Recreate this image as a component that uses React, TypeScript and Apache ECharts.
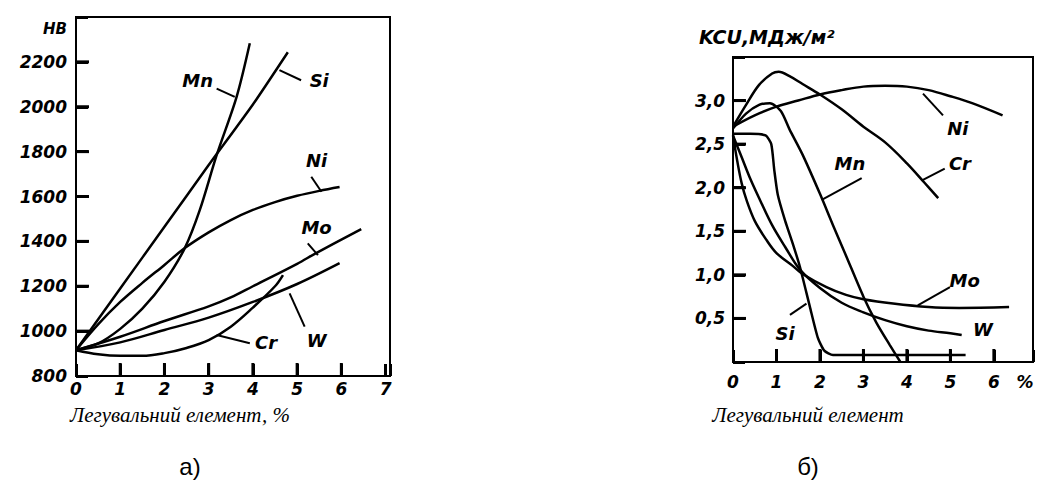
import React, { useEffect, useRef } from 'react';
import * as echarts from 'echarts';

// ---------- Chart a) : hardness HB vs alloying element, % ----------
const hbMn: number[][] = [[0, 915], [0.5, 945], [1, 1010], [1.5, 1100], [2, 1220], [2.46, 1370], [2.8, 1540], [3.18, 1784], [3.63, 2043], [3.93, 2283]];
const hbSi: number[][] = [[0, 915], [1, 1190], [2, 1465], [3, 1740], [4, 2010], [4.79, 2243]];
const hbNi: number[][] = [[0, 915], [0.5, 1030], [1, 1130], [1.5, 1215], [2, 1295], [2.46, 1370], [3, 1440], [3.5, 1495], [4, 1540], [4.5, 1575], [5, 1603], [5.5, 1625], [5.96, 1642]];
const hbMo: number[][] = [[0, 915], [1, 975], [2, 1045], [3, 1110], [3.5, 1150], [4, 1200], [5, 1300], [5.43, 1348], [6.45, 1455]];
const hbW: number[][] = [[0, 915], [1, 950], [2, 1005], [3, 1060], [4, 1130], [5, 1210], [5.96, 1303]];
const hbCr: number[][] = [[0, 915], [0.5, 897], [1, 890], [1.5, 890], [2, 902], [2.5, 925], [3, 960], [3.5, 1020], [4, 1105], [4.5, 1200], [4.68, 1250]];
const hbXTicks = [1, 2, 3, 4, 5, 6];
const hbYTicks = [1000, 1200, 1400, 1600, 1800, 2000, 2200];

const hbLabels = [
  { text: 'Mn', at: [2.75, 2118], from: [3.18, 2081], to: [3.59, 2044] },
  { text: 'Si', at: [5.5, 2118], from: [4.6, 2163], to: [5.09, 2118] },
  { text: 'Ni', at: [5.44, 1762], from: [5.32, 1688], to: [5.55, 1621] },
  { text: 'Mo', at: [5.44, 1464], from: [5.24, 1391], to: [5.47, 1339] },
  { text: 'Cr', at: [4.3, 951], from: [3.18, 983], to: [3.93, 946] },
  { text: 'W', at: [5.44, 960], from: [4.83, 1168], to: [5.17, 1020] },
];

// ---------- Chart б) : impact toughness KCU vs alloying element ----------
const kcuNi: number[][] = [[0, 2.7], [0.5, 2.83], [1, 2.93], [1.5, 3.0], [2, 3.07], [2.5, 3.12], [3, 3.16], [3.5, 3.17], [4, 3.16], [4.5, 3.12], [5, 3.05], [5.5, 2.97], [6.2, 2.83]];
const kcuCr: number[][] = [[0, 2.7], [0.3, 2.95], [0.6, 3.18], [0.9, 3.31], [1.05, 3.33], [1.3, 3.28], [1.6, 3.19], [2, 3.07], [2.5, 2.9], [3, 2.7], [3.5, 2.52], [4, 2.28], [4.4, 2.06], [4.72, 1.88]];
const kcuMn: number[][] = [[0, 2.68], [0.3, 2.85], [0.6, 2.95], [0.85, 2.97], [1.1, 2.88], [1.3, 2.67], [1.6, 2.38], [2, 1.93], [2.3, 1.57], [2.6, 1.22], [3, 0.75], [3.3, 0.45], [3.6, 0.2], [3.85, 0.0]];
const kcuSi: number[][] = [[0, 2.62], [0.4, 2.62], [0.75, 2.6], [0.88, 2.5], [0.95, 2.2], [1.03, 1.92], [1.2, 1.62], [1.38, 1.35], [1.54, 1.09], [1.77, 0.63], [1.95, 0.28], [2.1, 0.13], [2.3, 0.08], [5.35, 0.08]];
const kcuMo: number[][] = [[0, 2.6], [0.1, 2.3], [0.2, 2.05], [0.31, 1.86], [0.5, 1.62], [0.77, 1.4], [1, 1.25], [1.38, 1.1], [1.6, 1.01], [2.15, 0.86], [2.6, 0.77], [3, 0.72], [3.68, 0.67], [4.5, 0.63], [5.2, 0.62], [6.35, 0.63]];
const kcuW: number[][] = [[0, 2.6], [0.2, 2.35], [0.4, 2.1], [0.62, 1.86], [0.9, 1.57], [1.2, 1.32], [1.54, 1.06], [2, 0.85], [2.5, 0.68], [3, 0.57], [3.5, 0.48], [4, 0.41], [4.5, 0.36], [5, 0.33], [5.26, 0.31]];
const kcuXTicks = [1, 2, 3, 4, 5, 6];
const kcuYTicks = [0.5, 1.0, 1.5, 2.0, 2.5, 3.0];

const kcuLabels = [
  { text: 'Ni', at: [5.17, 2.68], from: [4.37, 3.08], to: [4.83, 2.83] },
  { text: 'Cr', at: [5.22, 2.28], from: [4.37, 2.09], to: [4.87, 2.22] },
  { text: 'Mn', at: [2.69, 2.28], from: [2.96, 2.11], to: [2.04, 1.86] },
  { text: 'Mo', at: [5.33, 0.94], from: [4.25, 0.65], to: [4.99, 0.86] },
  { text: 'W', at: [5.75, 0.37], from: null, to: null },
  { text: 'Si', at: [1.2, 0.33], from: [1.31, 0.54], to: [1.69, 0.67] },
];

const INK = '#000000';
const NUM_FONT = "'DejaVu Sans', sans-serif";

export default function App() {
  const ref = useRef<HTMLDivElement>(null);

  useEffect(() => {
    if (!ref.current) return;
    const chart = echarts.init(ref.current, null, { renderer: 'svg' });

    const numLabel = () => ({
      color: INK,
      fontFamily: NUM_FONT,
      fontStyle: 'italic' as const,
      fontWeight: 'bold' as const,
      fontSize: 17,
    });
    const axisLine = () => ({ show: true, lineStyle: { color: INK, width: 2 } });
    const axisTick = () => ({ show: true, inside: true, length: 12, lineStyle: { color: INK, width: 3 } });
    const line = (name: string, data: number[][], gi: number, smooth: number | boolean = 0.35) => ({
      type: 'line',
      name,
      xAxisIndex: gi,
      yAxisIndex: gi,
      data,
      smooth,
      showSymbol: false,
      symbol: 'none',
      lineStyle: { color: INK, width: 2.5 },
      z: 3,
    });

    chart.setOption({
      animation: false,
      grid: [
        { left: 76, top: 17, width: 314, height: 359, show: true, borderColor: INK, borderWidth: 2 },
        { left: 733, top: 57, width: 300, height: 305, show: true, borderColor: INK, borderWidth: 2 },
      ],
      xAxis: [
        {
          type: 'value', gridIndex: 0, min: 0, max: 7.1, interval: 1,
          axisLine: axisLine(), axisTick: axisTick(), splitLine: { show: false },
          axisLabel: { ...numLabel(), margin: 4, formatter: (v: number) => (Number.isInteger(v) ? String(v) : '') },
        },
        {
          type: 'value', gridIndex: 1, min: 0, max: 6.9, interval: 1,
          axisLine: axisLine(), axisTick: axisTick(), splitLine: { show: false },
          axisLabel: { ...numLabel(), margin: 11, formatter: (v: number) => (Number.isInteger(v) ? String(v) : '') },
        },
      ],
      yAxis: [
        {
          type: 'value', gridIndex: 0, min: 800, max: 2400, interval: 200,
          axisLine: axisLine(), axisTick: axisTick(), splitLine: { show: false },
          axisLabel: { ...numLabel(), margin: 9, formatter: (v: number) => (v >= 2400 ? '' : String(v)) },
        },
        {
          type: 'value', gridIndex: 1, min: 0, max: 3.5, interval: 0.5,
          axisLine: axisLine(), axisTick: axisTick(), splitLine: { show: false },
          axisLabel: { ...numLabel(), margin: 8, formatter: (v: number) => (v <= 0 || v >= 3.5 ? '' : v.toFixed(1).replace('.', ',')) },
        },
      ],
      series: [
        line('Mn', hbMn, 0, 0.3),
        line('Si', hbSi, 0, 0.2),
        line('Ni', hbNi, 0),
        line('Mo', hbMo, 0),
        line('W', hbW, 0),
        line('Cr', hbCr, 0),
        line('Ni', kcuNi, 1),
        line('Cr', kcuCr, 1),
        line('Mn', kcuMn, 1, 0.25),
        line('Si', kcuSi, 1, 0.2),
        line('Mo', kcuMo, 1),
        line('W', kcuW, 1),
      ],
    });

    const toPx = (gi: number, p: number[]) =>
      chart.convertToPixel({ xAxisIndex: gi, yAxisIndex: gi }, p) as number[];

    const labelFont = {
      fill: INK,
      fontFamily: NUM_FONT,
      fontStyle: 'italic',
      fontWeight: 'bold',
      fontSize: 18,
    };
    const centered = { align: 'center', verticalAlign: 'middle', textAlign: 'center', textVerticalAlign: 'middle' };

    const graphic: any[] = [];
    // inward tick marks through each grid's own scales
    const tickMarks = (gi: number, xs: number[], ys: number[], xMin: number, yMin: number) => {
      xs.forEach((v) => {
        const [px, py] = toPx(gi, [v, yMin]);
        graphic.push({ type: 'rect', shape: { x: px - 1.5, y: py - 13, width: 3, height: 13 }, style: { fill: '#000' }, z: 200 });
      });
      ys.forEach((v) => {
        const [px, py] = toPx(gi, [xMin, v]);
        graphic.push({ type: 'rect', shape: { x: px, y: py - 1.5, width: 13, height: 3 }, style: { fill: '#000' }, z: 200 });
      });
    };
    tickMarks(0, hbXTicks, hbYTicks, 0, 800);
    tickMarks(1, kcuXTicks, kcuYTicks, 0, 0);

    const addLabels = (gi: number, labels: any[]) => {
      labels.forEach((l) => {
        const [tx, ty] = toPx(gi, l.at);
        graphic.push({ type: 'text', style: { ...labelFont, ...centered, text: l.text, x: tx, y: ty }, z: 100 });
        if (l.from && l.to) {
          const [x1, y1] = toPx(gi, l.from);
          const [x2, y2] = toPx(gi, l.to);
          graphic.push({ type: 'line', shape: { x1, y1, x2, y2 }, style: { stroke: INK, lineWidth: 2 }, z: 100 });
        }
      });
    };
    addLabels(0, hbLabels);
    addLabels(1, kcuLabels);

    const axisBase = toPx(1, [6.67, 0]);
    const serif = "'Liberation Serif', 'DejaVu Serif', serif";
    graphic.push(
      { type: 'text', style: { ...labelFont, ...centered, text: 'HB', x: 55, y: 29, fontSize: 15 } },
      { type: 'text', style: { ...labelFont, text: 'KCU,МДж/м²', x: 699, y: 37, align: 'left', verticalAlign: 'middle', textAlign: 'left', textVerticalAlign: 'middle', fontSize: 19 } },
      { type: 'text', style: { ...labelFont, ...centered, text: '%', x: axisBase[0] + 2, y: axisBase[1] + 20, fontSize: 17 } },
      { type: 'text', style: { ...centered, text: 'Легувальний елемент, %', x: 180, y: 415, fill: INK, fontFamily: serif, fontStyle: 'italic', fontSize: 21 } },
      { type: 'text', style: { ...centered, text: 'Легувальний елемент', x: 808, y: 415, fill: INK, fontFamily: serif, fontStyle: 'italic', fontSize: 21 } },
      { type: 'text', style: { ...centered, text: 'а)', x: 190, y: 466, fill: INK, fontFamily: "'Liberation Sans', Arial, sans-serif", fontSize: 24 } },
      { type: 'text', style: { ...centered, text: 'б)', x: 808, y: 466, fill: INK, fontFamily: "'Liberation Sans', Arial, sans-serif", fontSize: 24 } },
    );

    chart.setOption({ graphic });

    return () => chart.dispose();
  }, []);

  return <div ref={ref} style={{ position: 'absolute', left: 0, top: 0, width: 1039, height: 492 }} />;
}
